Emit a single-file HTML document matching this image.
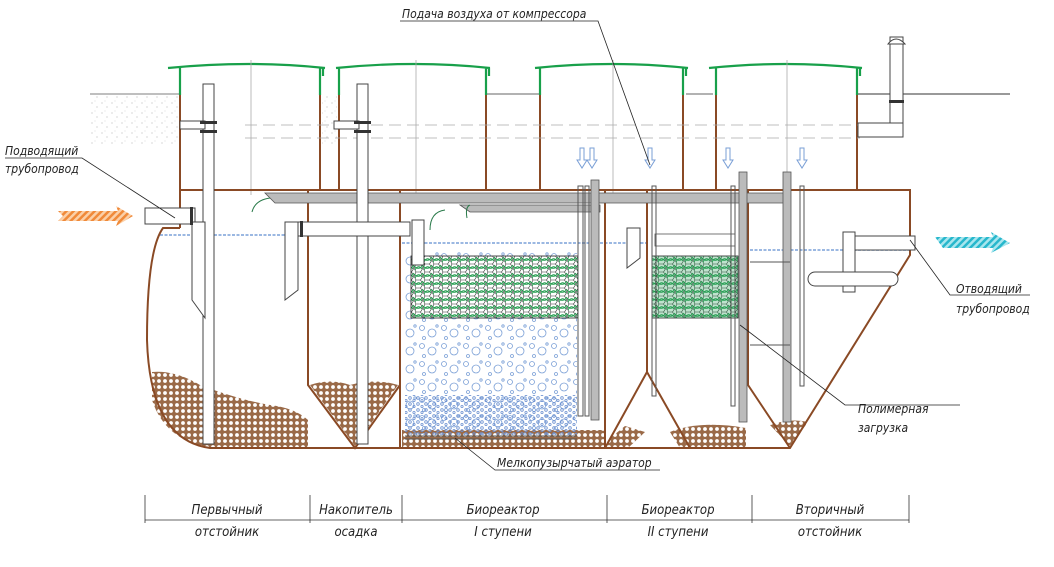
<!DOCTYPE html>
<html><head><meta charset="utf-8">
<style>
html,body{margin:0;padding:0;background:#fff;}
svg{display:block}
text{font-family:"DejaVu Sans Condensed","Liberation Sans Narrow","Liberation Sans",sans-serif;font-style:italic;fill:#222;}
</style></head>
<body>
<svg width="1054" height="567" viewBox="0 0 1054 567" xmlns="http://www.w3.org/2000/svg">
<defs>
<pattern id="sed" width="6" height="6" patternUnits="userSpaceOnUse">
<rect width="6" height="6" fill="#9a6a48"/>
<circle cx="3" cy="3" r="1.9" fill="#fff"/>
</pattern>
<pattern id="hex" width="9" height="8" patternUnits="userSpaceOnUse">
<rect width="9" height="8" fill="#fff"/>
<path d="M0 4 L2 0 L6.5 0 L9 4 L6.5 8 L2 8 Z" fill="none" stroke="#333" stroke-width="0.6"/>
<path d="M1 6 Q4 0 8 5 M0 2 Q5 7 9 1" fill="none" stroke="#1e9a4a" stroke-width="1"/>
</pattern>
<pattern id="bub" width="22" height="18" patternUnits="userSpaceOnUse">
<circle cx="4" cy="4" r="2.5" fill="none" stroke="#7a9fd6" stroke-width="0.8"/>
<circle cx="14" cy="9" r="4" fill="none" stroke="#7a9fd6" stroke-width="0.8"/>
<circle cx="6" cy="14" r="1.5" fill="none" stroke="#7a9fd6" stroke-width="0.8"/>
<circle cx="19" cy="2" r="1.2" fill="none" stroke="#7a9fd6" stroke-width="0.8"/>
</pattern>
<pattern id="bub2" width="8" height="6" patternUnits="userSpaceOnUse">
<circle cx="2" cy="2" r="1.3" fill="none" stroke="#6a8fd0" stroke-width="0.8"/>
<circle cx="6" cy="4.5" r="1.1" fill="none" stroke="#6a8fd0" stroke-width="0.8"/>
</pattern>
<pattern id="gnd" width="10" height="10" patternUnits="userSpaceOnUse">
<circle cx="2" cy="3" r="0.5" fill="#999"/><circle cx="7" cy="7" r="0.5" fill="#999"/><circle cx="5" cy="1" r="0.4" fill="#aaa"/>
</pattern>
<pattern id="orh" width="5" height="5" patternUnits="userSpaceOnUse" patternTransform="rotate(45)">
<rect width="5" height="5" fill="#fbd0a8"/><rect width="2.5" height="5" fill="#f08a3a"/>
</pattern>
<pattern id="cyh" width="5" height="5" patternUnits="userSpaceOnUse" patternTransform="rotate(45)">
<rect width="5" height="5" fill="#a8e6ee"/><rect width="2.5" height="5" fill="#27b7cc"/>
</pattern>
</defs>

<rect x="90" y="94" width="90" height="50" fill="url(#gnd)"/>
<rect x="322" y="94" width="15" height="50" fill="url(#gnd)"/>
<line x1="90" y1="94" x2="180" y2="94" stroke="#555" stroke-width="0.8"/>
<line x1="858" y1="94" x2="1010" y2="94" stroke="#333" stroke-width="1"/>
<line x1="487" y1="94" x2="540" y2="94" stroke="#333" stroke-width="0.8"/>
<line x1="686" y1="94" x2="713" y2="94" stroke="#333" stroke-width="0.8"/>

<path d="M152 372 Q175 370 200 385 Q240 400 270 405 Q295 408 308 420 L308 448 L210 448 Q165 440 152 400 Z" fill="url(#sed)"/>
<path d="M310 385 Q330 378 350 385 Q375 378 398 385 L355 446 Z" fill="url(#sed)"/>
<path d="M402 430 L605 430 L605 448 L402 448 Z" fill="url(#sed)"/>
<path d="M608 440 L625 426 L645 432 L628 448 L608 448 Z" fill="url(#sed)"/>
<path d="M670 432 Q700 420 746 428 L746 448 L680 448 Z" fill="url(#sed)"/>
<path d="M770 425 Q790 418 808 422 L790 446 Z" fill="url(#sed)"/>

<rect x="405" y="250" width="172" height="185" fill="url(#bub)"/>
<rect x="405" y="395" width="172" height="40" fill="url(#bub2)"/>
<rect x="411" y="256" width="167" height="62" fill="url(#hex)" stroke="#222" stroke-width="0.8"/>
<rect x="652" y="256" width="86" height="62" fill="url(#hex)" stroke="#222" stroke-width="0.8"/>
<rect x="652" y="256" width="86" height="62" fill="#2aa05a" opacity="0.3"/>

<g stroke="#7aa0d8" stroke-width="1.5" stroke-dasharray="3 1.5" fill="none">
<line x1="160" y1="235" x2="400" y2="235"/>
<line x1="402" y1="243" x2="646" y2="243"/>
<line x1="750" y1="250" x2="910" y2="250"/>
</g>

<g fill="none" stroke="#8a4a25" stroke-width="2">
<path d="M180 73 L180 228"/><path d="M320 73 L320 190"/>
<path d="M339 73 L339 190"/><path d="M486 73 L486 190"/>
<path d="M540 73 L540 190"/><path d="M683 73 L683 190"/>
<path d="M716 73 L716 190"/><path d="M857 73 L857 190"/>
</g>
<g fill="none" stroke="#18a04a" stroke-width="2.2">
<path d="M168 68 Q250 60 325 68 M180 68 L180 95 M320 68 L320 95 M323 68 L323 76"/>
<path d="M336 68 Q415 60 490 68 M339 68 L339 95 M486 68 L486 95 M489 68 L489 76"/>
<path d="M535 68 Q612 60 688 68 M540 68 L540 95 M683 68 L683 95 M686 68 L686 76"/>
<path d="M709 68 Q785 60 862 68 M716 68 L716 95 M857 68 L857 95 M860 68 L860 76"/>
</g>
<g stroke="#aaa" stroke-width="0.8" fill="none">
<line x1="251" y1="60" x2="251" y2="195"/><line x1="416" y1="60" x2="416" y2="195"/>
<line x1="613" y1="60" x2="613" y2="195"/><line x1="787" y1="60" x2="787" y2="195"/>
<line x1="245" y1="125" x2="860" y2="125" stroke-dasharray="12 6"/>
<line x1="245" y1="138" x2="860" y2="138" stroke-dasharray="12 6"/>
</g>

<g fill="none" stroke="#8a4a25" stroke-width="2">
<path d="M180 190 L910 190 L910 255 L790 448 L210 448 Q150 440 147 340 Q147 250 163 228 L180 228"/>
<path d="M308 190 L308 385 L355 448 L400 385"/>
<path d="M400 190 L400 448"/>
<path d="M605 190 L605 448"/>
<path d="M647 190 L647 372 L605 448 M647 372 L690 448"/>
<path d="M748 190 L748 385 L790 448"/>
</g>

<g fill="#bbb" stroke="#555" stroke-width="0.8">
<path d="M265 193 L790 193 L790 203 L275 203 Z"/>
<path d="M460 205 L600 205 L600 212 L470 212 Z"/>
<rect x="591" y="180" width="8" height="240"/>
<rect x="739" y="172" width="8" height="250"/>
<rect x="783" y="172" width="8" height="250"/>
<rect x="655" y="234" width="80" height="12" fill="#fff"/>
</g>
<g fill="none" stroke="#555" stroke-width="1">
<rect x="578" y="186" width="5" height="230"/><rect x="585" y="186" width="4" height="230"/>
<rect x="652" y="186" width="4" height="210"/><rect x="731" y="186" width="4" height="220"/>
<rect x="800" y="186" width="4" height="200"/>
<line x1="750" y1="262" x2="790" y2="262"/><line x1="750" y1="345" x2="790" y2="345"/>
<line x1="405" y1="436" x2="577" y2="436"/><line x1="405" y1="439" x2="577" y2="439"/>
</g>

<g fill="#fff" stroke="#444" stroke-width="1">
<rect x="203" y="84" width="11" height="360"/>
<rect x="357" y="84" width="11" height="360"/>
<rect x="145" y="208" width="50" height="16"/>
<path d="M192 222 L192 300 L205 318 L205 222 Z"/>
<rect x="290" y="222" width="120" height="14"/>
<path d="M285 222 L285 300 L298 290 L298 222 Z"/>
<rect x="412" y="220" width="12" height="45"/>
<path d="M627 228 L627 268 L640 258 L640 228 Z"/>
<rect x="855" y="236" width="60" height="14"/>
<rect x="843" y="232" width="12" height="60"/>
<rect x="808" y="272" width="90" height="14" rx="7"/>
<rect x="890" y="37" width="13" height="100"/>
<rect x="858" y="123" width="45" height="14"/>
<rect x="180" y="121" width="25" height="8"/><rect x="334" y="121" width="25" height="8"/>
</g>
<g fill="#333">
<rect x="200" y="121" width="17" height="3"/><rect x="200" y="130" width="17" height="3"/>
<rect x="354" y="121" width="17" height="3"/><rect x="354" y="130" width="17" height="3"/>
<rect x="190" y="207" width="3" height="18"/><rect x="300" y="221" width="3" height="16"/>
<rect x="889" y="100" width="15" height="3"/>
</g>
<path d="M888 44 Q896 34 905 44 Z" fill="#fff" stroke="#444"/>

<g fill="none" stroke="#7a9fd6" stroke-width="1">
<path d="M580 148 v12 h-3 l5 8 l5 -8 h-3 v-12 z M590 148 v12 h-3 l5 8 l5 -8 h-3 v-12 z"/>
<path d="M648 148 v12 h-3 l5 8 l5 -8 h-3 v-12 z"/>
<path d="M726 148 v12 h-3 l5 8 l5 -8 h-3 v-12 z"/>
<path d="M800 148 v12 h-3 l5 8 l5 -8 h-3 v-12 z"/>
</g>
<g fill="none" stroke="#2a7a4a" stroke-width="1">
<path d="M270 198 Q255 200 252 212"/><path d="M445 210 Q430 212 430 230"/><path d="M470 205 Q465 207 467 218"/>
</g>

<path d="M58 211 L118 211 L116 206 L133 216 L116 226 L118 221 L58 221 L63 216 Z" fill="url(#orh)"/>
<path d="M935 237 L993 237 L991 232 L1010 243 L991 253 L993 248 L943 248 Z" fill="url(#cyh)"/>

<g stroke="#222" stroke-width="0.8" fill="none">
<path d="M5 158 L82 158 L175 218"/>
<path d="M400 21 L598 21 L650 165"/>
<path d="M910 240 L950 295 L1030 295"/>
<path d="M740 325 L845 405 L960 405"/>
<path d="M455 438 L495 470 L660 470"/>
</g>

<text x="5" y="155" font-size="12">Подводящий</text>
<text x="5" y="173" font-size="12">трубопровод</text>
<text x="402" y="18" font-size="12">Подача воздуха от компрессора</text>
<text x="956" y="293" font-size="12">Отводящий</text>
<text x="956" y="313" font-size="12">трубопровод</text>
<text x="858" y="413" font-size="12">Полимерная</text>
<text x="858" y="432" font-size="12">загрузка</text>
<text x="497" y="467" font-size="12">Мелкопузырчатый аэратор</text>

<g stroke="#333" stroke-width="0.8">
<line x1="145" y1="520" x2="909" y2="520"/>
<line x1="145" y1="495" x2="145" y2="523"/><line x1="310" y1="495" x2="310" y2="523"/>
<line x1="402" y1="495" x2="402" y2="523"/><line x1="607" y1="495" x2="607" y2="523"/>
<line x1="752" y1="495" x2="752" y2="523"/><line x1="909" y1="495" x2="909" y2="523"/>
</g>
<g font-size="13" text-anchor="middle">
<text x="227" y="514">Первычный</text><text x="227" y="536">отстойник</text>
<text x="356" y="514">Накопитель</text><text x="356" y="536">осадка</text>
<text x="503" y="514">Биореактор</text><text x="503" y="536">I ступени</text>
<text x="678" y="514">Биореактор</text><text x="678" y="536">II ступени</text>
<text x="830" y="514">Вторичный</text><text x="830" y="536">отстойник</text>
</g>
</svg>
</body></html>
